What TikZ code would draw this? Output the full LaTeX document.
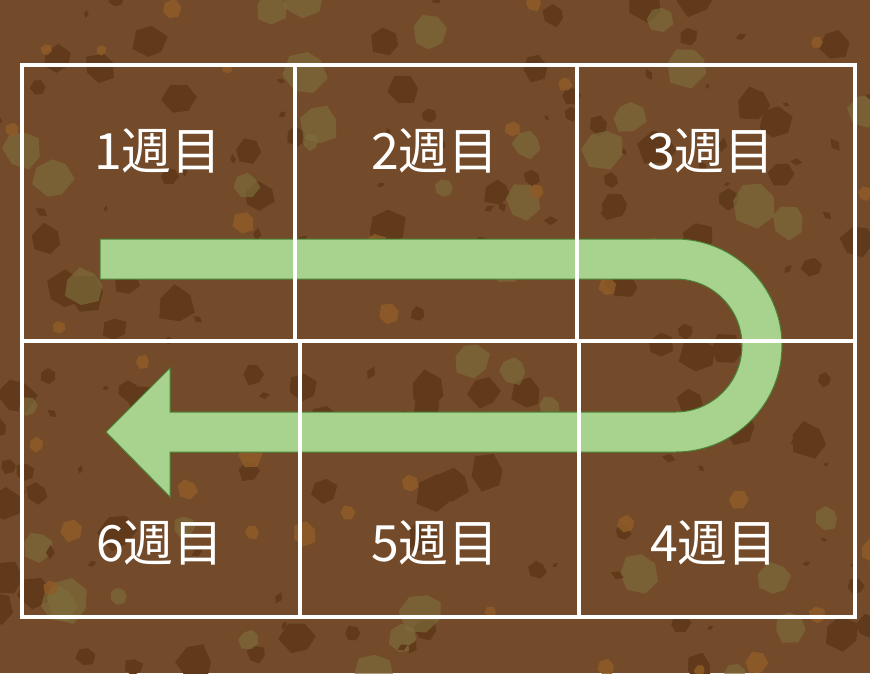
\documentclass[tikz,border=0pt]{standalone}
\usepackage{fontspec}
\newfontfamily\jpfont{Noto Sans CJK JP}
\definecolor{soil}{HTML}{744B2A}
\definecolor{rockdark}{HTML}{603A1B}
\definecolor{rockolive}{HTML}{7E6E3C}
\definecolor{rockorange}{HTML}{8E5C27}
\definecolor{arrowfill}{HTML}{A8D38E}
\definecolor{arrowline}{HTML}{4A8236}
\tikzset{
  cell/.style={draw=white, line width=4.8pt, rectangle, inner sep=0pt, outer sep=0pt},
  weeklabel/.style={text=white, inner sep=0pt, font=\jpfont\fontsize{50}{60}\selectfont},
  uarrow/.style={fill=arrowfill, draw=arrowline, line width=1pt, line join=miter}
}
\begin{document}
\begin{tikzpicture}[x=1pt,y=-1pt]
\useasboundingbox (0,0) rectangle (870,673);
\fill[soil] (0,0) rectangle (870,673);
\begin{scope}
\clip (0,0) rectangle (870,673);
\pgfmathsetseed{4242}
% dark rocks
\foreach \i in {1,...,100}{
  \pgfmathsetmacro{\cx}{rnd*880-5}
  \pgfmathsetmacro{\cy}{rnd*683-5}
  \pgfmathsetmacro{\r}{7+rnd*13}
  \pgfmathsetmacro{\rot}{rnd*60}
  \fill[rockdark, shift={(\cx,\cy)}, rotate=\rot]
    (0:{\r*(0.8+0.35*rnd)}) -- (55:{\r*(0.8+0.35*rnd)}) -- (115:{\r*(0.8+0.35*rnd)})
    -- (180:{\r*(0.8+0.35*rnd)}) -- (240:{\r*(0.8+0.35*rnd)}) -- (300:{\r*(0.8+0.35*rnd)}) -- cycle;
}
% olive rocks
\foreach \i in {1,...,40}{
  \pgfmathsetmacro{\cx}{rnd*880-5}
  \pgfmathsetmacro{\cy}{rnd*683-5}
  \pgfmathsetmacro{\r}{8+rnd*14}
  \pgfmathsetmacro{\rot}{rnd*60}
  \fill[rockolive, opacity=0.65, shift={(\cx,\cy)}, rotate=\rot]
    (0:{\r*(0.85+0.3*rnd)}) -- (50:{\r*(0.85+0.3*rnd)}) -- (105:{\r*(0.85+0.3*rnd)})
    -- (160:{\r*(0.85+0.3*rnd)}) -- (215:{\r*(0.85+0.3*rnd)}) -- (265:{\r*(0.85+0.3*rnd)})
    -- (315:{\r*(0.85+0.3*rnd)}) -- cycle;
}
% orange rocks
\foreach \i in {1,...,35}{
  \pgfmathsetmacro{\cx}{rnd*880-5}
  \pgfmathsetmacro{\cy}{rnd*683-5}
  \pgfmathsetmacro{\r}{5+rnd*8}
  \pgfmathsetmacro{\rot}{rnd*60}
  \fill[rockorange, opacity=0.85, shift={(\cx,\cy)}, rotate=\rot]
    (0:{\r*(0.85+0.3*rnd)}) -- (60:{\r*(0.85+0.3*rnd)}) -- (120:{\r*(0.85+0.3*rnd)})
    -- (180:{\r*(0.85+0.3*rnd)}) -- (240:{\r*(0.85+0.3*rnd)}) -- (300:{\r*(0.85+0.3*rnd)}) -- cycle;
}
% small chips
\foreach \i in {1,...,70}{
  \pgfmathsetmacro{\cx}{rnd*880-5}
  \pgfmathsetmacro{\cy}{rnd*683-5}
  \pgfmathsetmacro{\s}{3+rnd*5}
  \pgfmathsetmacro{\rot}{rnd*180}
  \fill[rockdark, shift={(\cx,\cy)}, rotate=\rot]
    (0:{\s}) -- (90:{\s*0.6}) -- (180:{\s*0.9}) -- (270:{\s*0.55}) -- cycle;
}
\end{scope}
% U-turn arrow
\path[uarrow] (100,239) -- (675.5,239) arc[start angle=90, end angle=-90, radius=106.5pt]
  -- (170,452) -- (170,497) -- (106,432) -- (170,368) -- (170,412) -- (675.5,412)
  arc[start angle=-90, end angle=90, radius=66.5pt] -- (100,279) -- cycle;
% grid
\node[cell, minimum width=273pt, minimum height=276pt] (c1) at (158.5,203) {};
\node[cell, minimum width=282pt, minimum height=276pt] (c2) at (436,203) {};
\node[cell, minimum width=278pt, minimum height=276pt] (c3) at (716,203) {};
\node[cell, minimum width=278pt, minimum height=276pt] (c6) at (161,479) {};
\node[cell, minimum width=279pt, minimum height=276pt] (c5) at (439.5,479) {};
\node[cell, minimum width=276pt, minimum height=276pt] (c4) at (717,479) {};
% labels
\node[weeklabel] (l1) at (158,151) {1週目};
\node[weeklabel] (l2) at (435,151) {2週目};
\node[weeklabel] (l3) at (711,151) {3週目};
\node[weeklabel] (l6) at (160,543) {6週目};
\node[weeklabel] (l5) at (435,543) {5週目};
\node[weeklabel] (l4) at (714,543) {4週目};
\end{tikzpicture}
\end{document}
